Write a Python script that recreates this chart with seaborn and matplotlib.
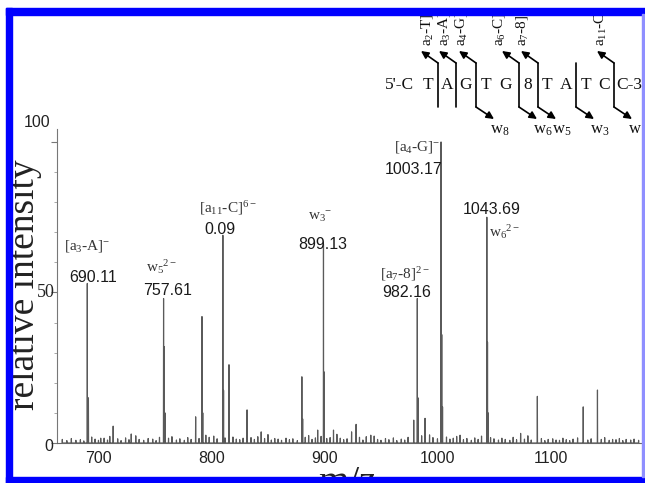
import matplotlib
matplotlib.use('Agg')
import matplotlib.pyplot as plt
import seaborn as sns
import pandas as pd
from matplotlib.patches import Rectangle
from matplotlib.ticker import MultipleLocator

# ---------------- data ----------------
peak_mz = [690.11, 691.1, 702, 713, 729, 757.61, 758.2, 758.9, 786, 791.6,
           792.3, 810.09, 810.7, 815.5, 831.5, 844, 856, 880, 880.7, 894,
           899.13, 899.8, 908, 924, 928, 941, 979, 982.16, 982.8, 989,
           1003.17, 1003.8, 1004.5, 1020, 1043.69, 1044.3, 1044.9, 1073.6, 1088.4, 1105,
           1129, 1141.6, 1155]
peak_int = [53, 15, 1.6, 5.6, 3, 48, 32, 10, 8.7, 42,
            10, 69, 17.5, 26, 11, 3.7, 1.5, 22, 8, 4.3,
            66, 23.6, 4.3, 3.7, 6.2, 2.6, 7.6, 48, 15, 8.2,
            100, 36, 12, 2.6, 75, 33.5, 10, 3.2, 15.5, 1.0,
            12, 17.6, 1.2]
noise_mz = [668, 672, 676, 680, 684, 687, 694, 697, 700, 705,
            708, 710, 717, 720, 724, 727, 733, 736, 740, 744,
            748, 751, 754, 762, 765, 769, 772, 776, 779, 782,
            789, 795, 798, 802, 805, 812, 819, 822, 825, 828,
            835, 838, 841, 847, 850, 853, 859, 862, 866, 869,
            872, 876, 883, 886, 889, 892, 897, 902, 905, 911,
            914, 917, 920, 931, 934, 937, 944, 947, 950, 954,
            957, 961, 964, 968, 971, 974, 986, 993, 996, 1000,
            1008, 1011, 1014, 1017, 1023, 1026, 1030, 1033, 1036, 1039,
            1047, 1050, 1054, 1057, 1060, 1064, 1067, 1070, 1077, 1080,
            1083, 1092, 1095, 1098, 1102, 1108, 1111, 1114, 1117, 1120,
            1124, 1133, 1136, 1145, 1148, 1152, 1158, 1161, 1164, 1167,
            1171, 1174, 1178]
noise_int = [1.2, 0.8, 1.5, 0.9, 1.1, 0.7, 2.0, 1.3, 0.9, 1.6,
             1.0, 2.2, 1.4, 0.8, 1.7, 1.1, 2.4, 1.2, 0.9, 1.5,
             1.3, 0.8, 1.9, 1.6, 2.1, 1.0, 1.4, 0.9, 1.8, 1.2,
             1.5, 2.6, 1.9, 2.3, 1.4, 1.7, 2.0, 1.3, 1.1, 1.6,
             1.8, 1.2, 2.1, 1.5, 2.8, 1.0, 1.3, 0.9, 1.6, 1.1,
             1.4, 0.8, 1.9, 2.5, 1.2, 1.7, 2.2, 1.5, 1.8, 2.9,
             1.6, 1.1, 1.4, 1.9, 1.0, 2.1, 2.3, 1.2, 0.9, 1.5,
             1.1, 1.7, 0.8, 1.3, 1.0, 1.9, 2.4, 2.7, 1.8, 1.4,
             2.0, 1.3, 1.6, 2.2, 1.1, 1.5, 0.9, 1.7, 1.2, 2.3,
             1.8, 1.4, 1.0, 1.6, 1.2, 0.9, 1.9, 1.1, 1.3, 2.4,
             1.0, 1.5, 0.8, 1.2, 1.4, 0.9, 1.6, 1.1, 0.8, 1.3,
             1.7, 1.0, 1.4, 1.2, 1.8, 0.9, 1.1, 1.5, 0.8, 1.2,
             1.0, 1.3, 0.9]

mass_labels = ["690.11", "757.61", "0.09", "899.13", "982.16", "1003.17", "1043.69"]
ion_labels = [r"[a$_3$-A]$^{-}$", r"w$_5$$^{2-}$", r"[a$_{11}$-C]$^{6-}$", r"w$_3$$^{-}$",
              r"[a$_7$-8]$^{2-}$", r"[a$_4$-G]$^{-}$", r"w$_6$$^{2-}$"]
x_ticks = [700, 800, 900, 1000, 1100]
y_ticks = [0, 50, 100]
sequence = ["5'-C", "T", "A", "G", "T", "G", "8", "T", "A", "T", "C", "C-3'"]
a_ions = [r"a$_2$-T]", r"a$_3$-A]", r"a$_4$-G]", r"a$_6$-C]", r"a$_7$-8]", r"a$_{11}$-C]"]
w_ions = [r"w$_8$", r"w$_6$", r"w$_5$", r"w$_3$", r"w$_1$"]

# ---------------- style ----------------
sns.set_style("ticks")
plt.rcParams['font.family'] = ['Liberation Sans', 'DejaVu Sans']
plt.rcParams['mathtext.fontset'] = 'custom'
plt.rcParams['mathtext.rm'] = 'Liberation Serif'
plt.rcParams['mathtext.it'] = 'Liberation Serif:italic'
plt.rcParams['mathtext.bf'] = 'Liberation Serif:bold'
SERIF = ['Liberation Serif', 'DejaVu Serif']
SANS = ['Liberation Sans', 'DejaVu Sans']

W, H = 645, 483
fig = plt.figure(figsize=(W / 100, H / 100), dpi=100)
fig.patch.set_facecolor('white')

# axes placement (pixels)
L, R, B, T = 57, 643, 443, 129
ax = fig.add_axes([L / W, 1 - B / H, (R - L) / W, (B - T) / H])
ax.set_facecolor('white')

# ---------------- spectrum ----------------
all_pk = sorted(zip(peak_mz + noise_mz, peak_int + noise_int))
rows = []
hw = 0.15
for m, h in all_pk:
    rows += [(m - hw, 0.0), (m, h), (m + hw, 0.0)]
df = pd.DataFrame(rows, columns=['mz', 'intensity'])
sns.lineplot(data=df, x='mz', y='intensity', sort=False, estimator=None,
             color='#5a5a5a', lw=0.85, ax=ax)

ax.set_xlim(663.3, 1181.9)
ax.set_ylim(0, 104.3)
ax.set_xlabel('')
ax.set_ylabel('')
for s in ['top', 'right']:
    ax.spines[s].set_visible(False)
ax.spines['left'].set_color('#777777')
ax.spines['bottom'].set_color('#666666')
ax.spines['left'].set_linewidth(0.8)
ax.spines['bottom'].set_linewidth(0.8)

ax.set_xticks(x_ticks)
ax.set_xticklabels([str(v) for v in x_ticks], fontsize=11.5, family=SANS, color='#222222')
ax.tick_params(axis='x', length=0, pad=6)
ax.set_yticks(y_ticks)
ax.set_yticklabels([])
ax.yaxis.set_minor_locator(MultipleLocator(10))
ax.tick_params(axis='y', which='major', length=4, color='#777777', width=0.8)
ax.tick_params(axis='y', which='minor', length=2, color='#999999', width=0.6)

# y tick labels (custom positions / fonts as in the figure)
ytr = ax.get_yaxis_transform()
ax.text(-0.007, -1.3, "0", transform=ytr, ha='right', va='center', fontsize=11.5,
        family=SANS, color='#222222', clip_on=False)
ax.text(-0.004, 50, "50", transform=ytr, ha='right', va='center', fontsize=13,
        family=SERIF, color='#222222', clip_on=False)
ax.text(-0.012, 106.3, "100", transform=ytr, ha='right', va='center', fontsize=11.5,
        family=SANS, color='#222222', clip_on=False)

# peak annotations (data coordinates)
mass_pos = [(695, 55, 'center'), (760.8, 50.7, 'center'), (807.7, 71, 'center'),
            (898.7, 66, 'center'), (973, 50, 'center'), (1004.1, 91, 'right'),
            (1048.3, 77.5, 'center')]
ion_pos = [(690.4, 65.6, 'center'), (756, 58.6, 'center'), (814.7, 78, 'center'),
           (896, 75, 'center'), (971.5, 56, 'center'), (1002.4, 98.3, 'right'),
           (1059.8, 70, 'center')]
for txt, (x, y, ha) in zip(mass_labels, mass_pos):
    ax.text(x, y, txt, ha=ha, va='center', fontsize=11.5, family=SANS,
            color='#1a1a1a', clip_on=False)
for txt, (x, y, ha) in zip(ion_labels, ion_pos):
    ax.text(x, y, txt, ha=ha, va='center', fontsize=11, family=SERIF,
            color='#333333', clip_on=False)

# ---------------- overlay (pixel coordinates) ----------------
ov = fig.add_axes([0, 0, 1, 1], zorder=10)
ov.set_xlim(0, W)
ov.set_ylim(H, 0)
ov.axis('off')
ov.patch.set_alpha(0)

# axis titles
ov.text(25, 285, "relative intensity", rotation=90, ha='center', va='center',
        fontsize=27, family=SERIF, color='#222222')
ov.text(347, 493, "m/z", ha='center', va='baseline', fontsize=28, family=SERIF,
        color='#222222')

# sequence
seq_x = [399, 428, 447, 466, 486, 506, 528, 547, 566, 586, 604, 616]
for i, (s, x) in enumerate(zip(sequence, seq_x)):
    ov.text(x, 85, s, ha='left' if i == len(sequence) - 1 else 'center',
            va='center', fontsize=12.5, family=SERIF, color='#111111')

cut_x = [438, 456, 476, 519, 538, 576, 614]
has_top = [True, True, True, True, True, False, True]
has_bot = [False, False, True, True, True, True, True]
ap = dict(arrowstyle='-|>', color='black', lw=1.2, mutation_scale=11,
          shrinkA=0, shrinkB=0)
for x, t, b in zip(cut_x, has_top, has_bot):
    ov.plot([x, x], [63, 107], color='black', lw=1.2)
    if t:
        ov.annotate('', xy=(x - 17, 51), xytext=(x, 63), arrowprops=ap)
    if b:
        ov.annotate('', xy=(x + 18, 119), xytext=(x, 107), arrowprops=ap)

a_x = [427, 444, 461, 499, 522, 600]
for s, x in zip(a_ions, a_x):
    ov.text(x, 46, s, rotation=90, ha='center', va='bottom', fontsize=11,
            family=SERIF, color='#111111')
w_x = [c + 24 for c, b in zip(cut_x, has_bot) if b]
for s, x in zip(w_ions, w_x):
    ov.text(x, 130, s, ha='center', va='center', fontsize=12, family=SERIF,
            color='#111111')

# blue frame
blue = '#0000ff'
ov.add_patch(Rectangle((0, 0), W, 8, color='white', zorder=20))
ov.add_patch(Rectangle((0, 0), 6, H, color='white', zorder=20))
ov.add_patch(Rectangle((6, 8), W, 6.5, color=blue, zorder=21))
ov.add_patch(Rectangle((6, 8), 6, H, color=blue, zorder=21))
ov.add_patch(Rectangle((6, 477), W, 7, color=blue, zorder=21))
ov.add_patch(Rectangle((642, 14), 2, 463, color='#8f8fff', zorder=21))

fig.savefig('out.png', dpi=100, facecolor='white')
